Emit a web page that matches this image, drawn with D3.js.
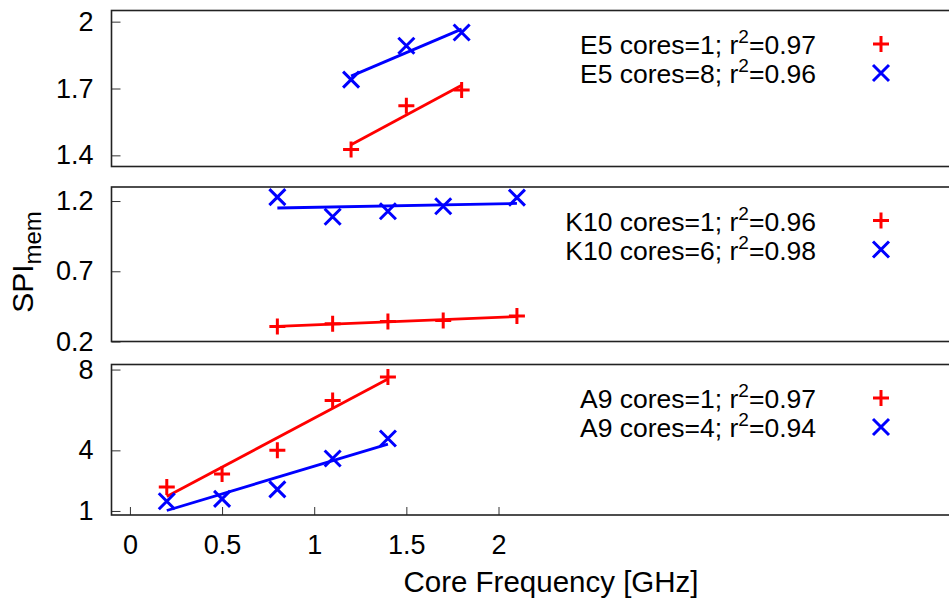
<!DOCTYPE html>
<html lang="en">
<head>
    <meta charset="UTF-8">
    <title>SPI mem vs core frequency</title>
    <script src="https://cdnjs.cloudflare.com/ajax/libs/d3/7.8.5/d3.min.js"></script>
    <style>
        body { margin: 0; background: #fff; }
        svg { display: block; font-family: "Liberation Sans", Arial, sans-serif; }
        .tick line { stroke: #333; stroke-width: 1px; }
        .tick text { fill: #000; font-size: 27px; }
        .frame { fill: none; stroke: #222; stroke-width: 1.6px; }
        .fit { fill: none; stroke-width: 2.8px; }
        .mark { stroke-width: 3px; fill: none; }
    </style>
</head>
<body>
<div id="chart"></div>
<script>
        // measured SPI_mem per platform, x = core frequency in GHz
        const e5Freq = [1.2, 1.5, 1.8];
        const e5Cores1 = [1.426, 1.623, 1.693];
        const e5Cores8 = [1.740, 1.892, 1.951];

        const k10Freq = [0.8, 1.1, 1.4, 1.7, 2.1];
        const k10Cores1 = [0.307, 0.326, 0.342, 0.350, 0.381];
        const k10Cores6 = [1.228, 1.088, 1.127, 1.163, 1.224];

        const a9Freq = [0.2, 0.5, 0.8, 1.1, 1.4];
        const a9Cores1 = [2.18, 2.83, 4.00, 6.47, 7.63];
        const a9Cores4 = [1.48, 1.60, 2.07, 3.60, 4.59];

        const legendLabels = [
            ["E5 cores=1; r", "0.97"], ["E5 cores=8; r", "0.96"],
            ["K10 cores=1; r", "0.96"], ["K10 cores=6; r", "0.98"],
            ["A9 cores=1; r", "0.97"], ["A9 cores=4; r", "0.94"]
        ];

        const xTicks = [0, 0.5, 1, 1.5, 2];
        const e5Ticks = [1.4, 1.7, 2];
        const k10Ticks = [0.2, 0.7, 1.2];
        const a9Ticks = [1, 4, 8];

        const width = 949, height = 608;

        const panels = [
            { freq: e5Freq, series: [e5Cores1, e5Cores8], ticks: e5Ticks, domain: [1.35, 2.05], top: 10.5, bottom: 166.5, legend: legendLabels.slice(0, 2) },
            { freq: k10Freq, series: [k10Cores1, k10Cores6], ticks: k10Ticks, domain: [0.2, 1.3], top: 187, bottom: 341.5, legend: legendLabels.slice(2, 4) },
            { freq: a9Freq, series: [a9Cores1, a9Cores4], ticks: a9Ticks, domain: [0.8, 8.25], top: 364.5, bottom: 515, legend: legendLabels.slice(4, 6) }
        ];
        const colors = ["#ff0000", "#0000ff"];
        const shapes = ["plus", "cross"];

        const svg = d3.select("#chart").append("svg")
            .attr("width", width)
            .attr("height", height);

        const x = d3.scaleLinear().domain([-0.1, 4.45]).range([111.5, 950]);

        // least squares line, drawn over the measured range
        function linearFit(xs, ys) {
            const mx = d3.mean(xs), my = d3.mean(ys);
            let num = 0, den = 0;
            xs.forEach((v, i) => { num += (v - mx) * (ys[i] - my); den += (v - mx) * (v - mx); });
            const slope = num / den;
            const lo = d3.min(xs), hi = d3.max(xs);
            return [[lo, my + slope * (lo - mx)], [hi, my + slope * (hi - mx)]];
        }

        function marker(g, shape, cx, cy, color) {
            const p = shape === "plus"
                ? `M${cx - 8},${cy}H${cx + 8}M${cx},${cy - 8}V${cy + 8}`
                : `M${cx - 8},${cy - 8}L${cx + 8},${cy + 8}M${cx - 8},${cy + 8}L${cx + 8},${cy - 8}`;
            g.append("path").attr("class", "mark").attr("d", p).attr("stroke", color);
        }

        panels.forEach((p, pi) => {
            const y = d3.scaleLinear().domain(p.domain).range([p.bottom, p.top]);
            const g = svg.append("g");

            g.append("g")
                .attr("transform", `translate(${x.range()[0]},0)`)
                .call(d3.axisLeft(y).tickValues(p.ticks).tickSize(-9).tickPadding(18).tickFormat(d3.format("")))
                .call(a => a.select(".domain").remove())
                .call(a => a.selectAll("text").attr("font-family", null).attr("font-size", null));

            if (pi === 2) {
                g.append("g")
                    .attr("transform", `translate(0,${p.bottom})`)
                    .call(d3.axisBottom(x).tickValues(xTicks).tickSize(-8).tickPadding(20).tickFormat(d3.format("")))
                    .call(a => a.select(".domain").remove())
                    .call(a => a.selectAll("text").attr("font-family", null).attr("font-size", null));
            }

            g.append("rect").attr("class", "frame")
                .attr("x", x.range()[0]).attr("y", p.top)
                .attr("width", x.range()[1] - x.range()[0]).attr("height", p.bottom - p.top);

            const line = d3.line().x(d => x(d[0])).y(d => y(d[1]));

            p.series.forEach((vals, si) => {
                g.append("path").attr("class", "fit")
                    .attr("stroke", colors[si])
                    .attr("d", line(linearFit(p.freq, vals)));
                vals.forEach((v, i) => marker(g, shapes[si], x(p.freq[i]), y(v), colors[si]));
            });

            p.legend.forEach((lab, li) => {
                const base = p.top + 43.5 + li * 29;
                const t = g.append("text")
                    .attr("x", 816).attr("y", base)
                    .attr("text-anchor", "end")
                    .attr("font-size", 26.5);
                t.append("tspan").text(lab[0]);
                t.append("tspan").attr("dy", -11).attr("font-size", 19).text("2");
                t.append("tspan").attr("dy", 11).text("=" + lab[1]);
                marker(g, shapes[li], 881, base - 10, colors[li]);
            });
        });

        // axis titles
        const yl = svg.append("text")
            .attr("transform", "translate(33,262) rotate(-90)")
            .attr("text-anchor", "middle")
            .attr("font-size", 30);
        yl.append("tspan").text("SPI");
        yl.append("tspan").attr("dy", 8).attr("font-size", 24).text("mem");

        svg.append("text")
            .attr("x", 551).attr("y", 592)
            .attr("text-anchor", "middle")
            .attr("font-size", 29.5)
            .text("Core Frequency [GHz]");
</script>
</body>
</html>
